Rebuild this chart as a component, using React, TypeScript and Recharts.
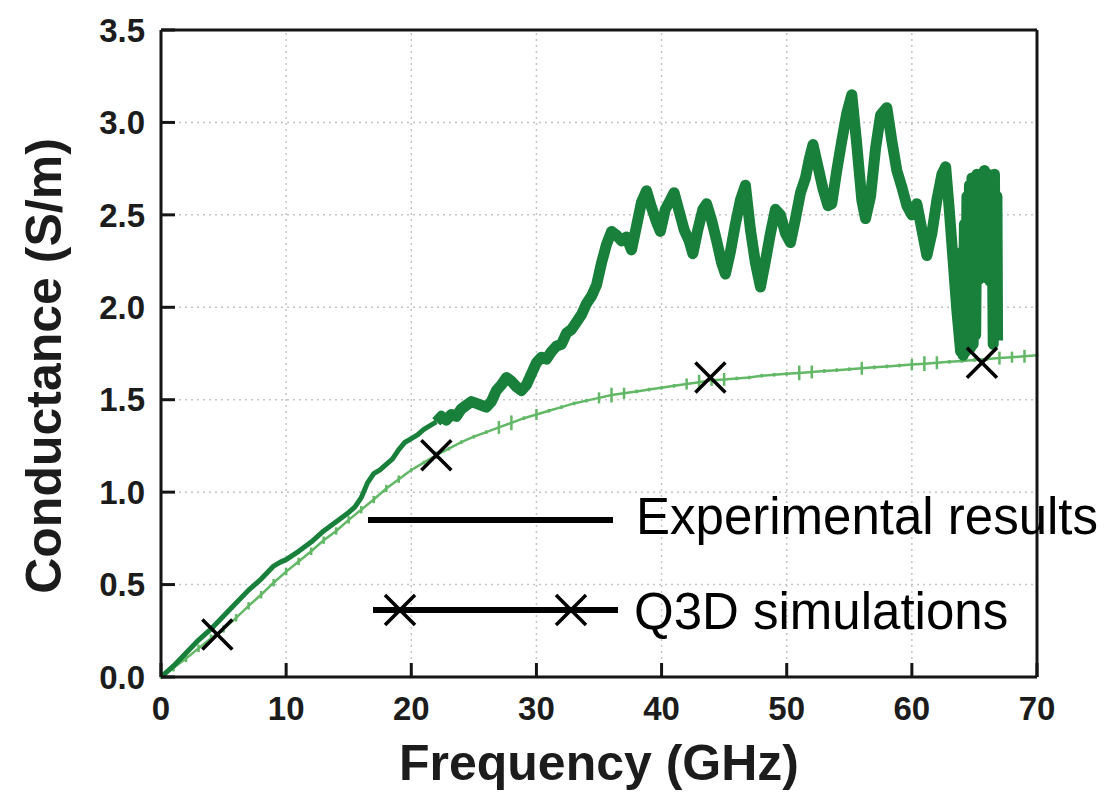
import { ComposedChart, Line, Scatter, XAxis, YAxis, ReferenceLine, ErrorBar } from "recharts";

// axis ticks (major carry labels, minor are bare inward marks)
const FREQ_TICKS = [0, 10, 20, 30, 40, 50, 60, 70];
const FREQ_MINOR = [5, 15, 25, 35, 45, 55, 65];
const G_TICKS = [0, 0.5, 1.0, 1.5, 2.0, 2.5, 3.0, 3.5];
const G_MINOR = [0.25, 0.75, 1.25, 1.75, 2.25, 2.75, 3.25];
const FREQ_GRID = [10, 20, 30, 40, 50, 60];
const G_GRID = [0.5, 1.0, 1.5, 2.0, 2.5, 3.0];

// measured conductance, [GHz, S/m] — low-frequency rise
const EXP_RISE: [number, number][] = [
  [0, 0], [1, 0.06], [2, 0.13], [3, 0.2], [4, 0.26], [5, 0.33], [6, 0.4], [7, 0.47],
  [8, 0.53], [9, 0.6], [9.5, 0.62], [10, 0.635], [11, 0.68], [12, 0.73], [13, 0.79],
  [14, 0.84], [15, 0.89], [15.5, 0.92], [16, 0.97], [16.5, 1.05], [17, 1.1], [17.5, 1.12],
  [18, 1.15], [18.5, 1.18], [19, 1.23], [19.5, 1.27], [20, 1.29], [20.5, 1.31], [21, 1.34],
  [21.5, 1.36], [22, 1.38],
];

// measured conductance, [GHz, S/m] — noisy upper band
const EXP_BAND: [number, number][] = [
  [22.0, 1.38], [22.4, 1.41], [22.8, 1.39], [23.2, 1.42], [23.6, 1.41], [24.0, 1.45],
  [24.4, 1.47], [24.8, 1.49], [25.2, 1.48], [25.6, 1.47], [26.0, 1.46], [26.4, 1.49],
  [26.8, 1.55], [27.2, 1.58], [27.6, 1.62], [28.0, 1.6], [28.4, 1.57], [28.8, 1.55],
  [29.2, 1.58], [29.6, 1.64], [30.0, 1.7], [30.4, 1.73], [30.8, 1.72], [31.2, 1.76],
  [31.6, 1.79], [32.0, 1.8], [32.4, 1.86], [32.8, 1.88], [33.2, 1.92], [33.6, 1.96],
  [34.0, 2.02], [34.4, 2.06], [34.8, 2.12], [35.2, 2.24], [35.6, 2.34], [36.0, 2.41],
  [36.4, 2.39], [36.8, 2.36], [37.2, 2.38], [37.6, 2.31], [38.0, 2.44], [38.4, 2.57],
  [38.8, 2.63], [39.2, 2.54], [39.6, 2.46], [39.9, 2.41], [40.3, 2.53], [40.7, 2.58],
  [41.0, 2.62], [41.4, 2.52], [41.8, 2.42], [42.2, 2.36], [42.5, 2.29], [42.9, 2.42],
  [43.3, 2.53], [43.6, 2.56], [44.0, 2.47], [44.4, 2.36], [44.8, 2.24], [45.1, 2.18],
  [45.5, 2.3], [45.9, 2.45], [46.3, 2.58], [46.7, 2.66], [47.1, 2.42], [47.5, 2.24],
  [47.9, 2.11], [48.3, 2.25], [48.7, 2.4], [49.1, 2.53], [49.5, 2.5], [49.9, 2.4],
  [50.3, 2.35], [50.7, 2.48], [51.1, 2.62], [51.5, 2.7], [51.8, 2.8], [52.1, 2.88],
  [52.5, 2.76], [52.9, 2.64], [53.3, 2.55], [53.6, 2.56], [54.0, 2.74], [54.4, 2.9],
  [54.8, 3.05], [55.2, 3.15], [55.6, 2.88], [56.0, 2.58], [56.3, 2.48], [56.7, 2.6],
  [57.1, 2.86], [57.5, 3.04], [58.0, 3.08], [58.4, 2.9], [58.8, 2.74], [59.2, 2.65],
  [59.6, 2.55], [60.0, 2.5], [60.4, 2.56], [60.8, 2.42], [61.2, 2.28], [61.6, 2.4],
  [62.0, 2.58], [62.4, 2.72], [62.7, 2.76], [63.0, 2.52], [63.3, 2.25], [63.6, 1.98],
  [63.9, 1.76], [64.0, 2.3], [64.1, 1.74], [64.2, 2.45], [64.3, 1.76], [64.4, 2.6],
  [64.5, 1.8], [64.6, 2.66], [64.7, 1.78], [64.8, 2.7], [64.9, 1.8], [65.0, 2.68],
  [65.1, 1.85], [65.2, 2.72], [65.35, 2.15], [65.5, 2.7], [65.65, 2.18], [65.8, 2.74],
  [65.95, 2.16], [66.1, 2.72], [66.25, 2.14], [66.4, 2.7], [66.5, 1.8], [66.6, 2.72],
  [66.7, 1.85], [66.8, 2.6], [66.85, 1.82],
];

// fitted / simulated trace, [GHz, S/m, spread]
const SIM_CURVE: [number, number, number][] = [
  [0, 0, 0.01], [1, 0.05, 0.02], [2, 0.1, 0.02], [3, 0.155, 0.02], [4, 0.21, 0.02],
  [5, 0.26, 0.02], [6, 0.32, 0.02], [7, 0.385, 0.02], [8, 0.445, 0.02], [9, 0.51, 0.02],
  [10, 0.57, 0.02], [11, 0.625, 0.02], [12, 0.68, 0.02], [13, 0.74, 0.02], [14, 0.79, 0.02],
  [15, 0.85, 0.02], [16, 0.905, 0.02], [17, 0.96, 0.02], [18, 1.02, 0.02], [19, 1.07, 0.02],
  [20, 1.12, 0.01], [21, 1.16, 0.01], [22, 1.2, 0.02], [23, 1.235, 0.01], [24, 1.27, 0.01],
  [25, 1.3, 0.01], [26, 1.325, 0.01], [27, 1.35, 0.035], [28, 1.375, 0.04], [29, 1.4, 0.01],
  [30, 1.42, 0.03], [31, 1.44, 0.01], [32, 1.46, 0.01], [33, 1.48, 0.01], [34, 1.495, 0.01],
  [35, 1.51, 0.03], [36, 1.525, 0.04], [37, 1.535, 0.03], [38, 1.545, 0.01], [39, 1.555, 0.01],
  [40, 1.565, 0.01], [41, 1.575, 0.01], [42, 1.585, 0.03], [43, 1.595, 0.04], [44, 1.605, 0.03],
  [45, 1.61, 0.035], [46, 1.615, 0.01], [47, 1.62, 0.01], [48, 1.63, 0.01], [49, 1.635, 0.01],
  [50, 1.64, 0.01], [51, 1.645, 0.04], [52, 1.65, 0.035], [53, 1.655, 0.01], [54, 1.66, 0.01],
  [55, 1.665, 0.01], [56, 1.67, 0.035], [57, 1.675, 0.01], [58, 1.68, 0.01], [59, 1.685, 0.01],
  [60, 1.69, 0.03], [61, 1.695, 0.04], [62, 1.7, 0.035], [63, 1.705, 0.01], [64, 1.71, 0.01],
  [65, 1.715, 0.01], [66, 1.72, 0.01], [67, 1.725, 0.035], [68, 1.73, 0.03], [69, 1.735, 0.035],
  [70, 1.74, 0.01],
];

// Q3D simulation points, [GHz, S/m]
const Q3D_POINTS: [number, number][] = [
  [4.5, 0.23], [22.0, 1.2], [43.9, 1.62], [65.6, 1.7],
];

const W = 1108;
const H = 793;
// two 1px axes per side (major + minor ticks) sit inside these margins
const MARGIN = { top: 28, right: 69, bottom: 114, left: 159 };
const DARK_GREEN = "#18803a";
const LIGHT_GREEN = "#62b866";
const AXIS = "#151515";
const LABEL_FONT = "'Liberation Sans', Arial, sans-serif";

const expRise = EXP_RISE.map(([f, g]) => ({ f, g }));
const expBand = EXP_BAND.map(([f, g]) => ({ f, g }));
const simData = SIM_CURVE.map(([f, g, e]) => ({ f, g, e }));
const q3dData = Q3D_POINTS.map(([f, g]) => ({ f, g }));

const tickText = { fontFamily: LABEL_FONT, fontSize: 33, fontWeight: 700, fill: "#1c1c1c" };

function Cross({ cx, cy, r = 15, w = 3.5 }: { cx: number; cy: number; r?: number; w?: number }) {
  return (
    <g stroke="#000" strokeWidth={w}>
      <line x1={cx - r} y1={cy - r} x2={cx + r} y2={cy + r} />
      <line x1={cx - r} y1={cy + r} x2={cx + r} y2={cy - r} />
    </g>
  );
}

function YTitle() {
  const cx = 44;
  const cy = 366;
  return (
    <text
      x={cx}
      y={cy}
      transform={`rotate(-90 ${cx} ${cy})`}
      textAnchor="middle"
      dominantBaseline="central"
      fontFamily={LABEL_FONT}
      fontSize={50}
      fontWeight={700}
      fill="#1c1c1c"
    >
      Conductance (S/m)
    </text>
  );
}

function LegendOverlay() {
  const textStyle = { fontFamily: LABEL_FONT, fontSize: 51, fill: "#000" };
  return (
    <svg width={W} height={H} style={{ position: "absolute", left: 0, top: 0, pointerEvents: "none" }}>
      <line x1={368} y1={520} x2={613} y2={520} stroke="#000" strokeWidth={6} />
      <text x={636} y={534} {...textStyle}>Experimental results</text>
      <line x1={373} y1={610} x2={618} y2={610} stroke="#000" strokeWidth={6} />
      <Cross cx={400} cy={610} />
      <Cross cx={571} cy={610} />
      <text x={634} y={629} {...textStyle}>Q3D simulations</text>
    </svg>
  );
}

const minorTick = { stroke: AXIS, strokeWidth: 2.5 };
const majorTick = { stroke: AXIS, strokeWidth: 3 };
const frame = { stroke: AXIS, strokeWidth: 3 };

export default function App() {
  return (
    <div style={{ position: "absolute", left: 0, top: 0, width: W, height: H, background: "#fff" }}>
      <ComposedChart width={W} height={H} margin={MARGIN}>
        <XAxis
          xAxisId="x"
          dataKey="f"
          type="number"
          domain={[0, 70]}
          ticks={FREQ_TICKS}
          interval={0}
          allowDataOverflow
          height={1}
          axisLine={frame}
          tickLine={majorTick}
          tickSize={-14}
          tickMargin={34}
          tick={tickText}
          label={{
            value: "Frequency (GHz)",
            position: "bottom",
            offset: 66,
            style: { fontFamily: LABEL_FONT, fontSize: 50, fontWeight: 700, fill: "#1c1c1c" },
          }}
        />
        <XAxis xAxisId="xm" type="number" domain={[0, 70]} ticks={FREQ_MINOR} interval={0} allowDataOverflow
          height={1} axisLine={false} tickLine={minorTick} tickSize={-9} tick={false} />
        <XAxis xAxisId="xt" orientation="top" type="number" domain={[0, 70]} ticks={FREQ_TICKS} interval={0}
          allowDataOverflow height={1} axisLine={frame} tickLine={majorTick} tickSize={-14} tick={false} />
        <XAxis xAxisId="xtm" orientation="top" type="number" domain={[0, 70]} ticks={FREQ_MINOR} interval={0}
          allowDataOverflow height={1} axisLine={false} tickLine={minorTick} tickSize={-10} tick={false} />

        <YAxis
          yAxisId="y"
          dataKey="g"
          type="number"
          domain={[0, 3.5]}
          ticks={G_TICKS}
          interval={0}
          allowDataOverflow
          width={1}
          axisLine={frame}
          tickLine={majorTick}
          tickSize={-14}
          tickMargin={30}
          tick={tickText}
          tickFormatter={(v: number) => v.toFixed(1)}
          label={{ content: () => <YTitle /> }}
        />
        <YAxis yAxisId="ym" type="number" domain={[0, 3.5]} ticks={G_MINOR} interval={0} allowDataOverflow
          width={1} axisLine={false} tickLine={minorTick} tickSize={-10} tick={false} />
        <YAxis yAxisId="yr" orientation="right" type="number" domain={[0, 3.5]} ticks={G_TICKS} interval={0}
          allowDataOverflow width={1} axisLine={frame} tickLine={majorTick} tickSize={-14} tick={false} />
        <YAxis yAxisId="yrm" orientation="right" type="number" domain={[0, 3.5]} ticks={G_MINOR} interval={0}
          allowDataOverflow width={1} axisLine={false} tickLine={minorTick} tickSize={-10} tick={false} />

        {FREQ_GRID.map((v) => (
          <ReferenceLine key={`gx${v}`} xAxisId="x" yAxisId="y" x={v} stroke="#c4c4c4"
            strokeWidth={1.5} strokeDasharray="2 4" />
        ))}
        {G_GRID.map((v) => (
          <ReferenceLine key={`gy${v}`} xAxisId="x" yAxisId="y" y={v} stroke="#c4c4c4"
            strokeWidth={1.5} strokeDasharray="2 4" />
        ))}

        <Line xAxisId="x" yAxisId="y" data={simData} dataKey="g" type="linear" stroke={LIGHT_GREEN}
          strokeWidth={2.5} dot={false} activeDot={false} isAnimationActive={false}>
          <ErrorBar dataKey="e" direction="y" width={0} stroke={LIGHT_GREEN} strokeWidth={2.5}
            isAnimationActive={false} />
        </Line>
        <Line xAxisId="x" yAxisId="y" data={expRise} dataKey="g" type="linear" stroke={DARK_GREEN}
          strokeWidth={5} strokeLinejoin="round" dot={false} activeDot={false} isAnimationActive={false} />
        <Line xAxisId="x" yAxisId="y" data={expBand} dataKey="g" type="linear" stroke={DARK_GREEN}
          strokeWidth={11} strokeLinejoin="round" dot={false} activeDot={false} isAnimationActive={false} />
        <Scatter xAxisId="x" yAxisId="y" data={q3dData} dataKey="g" isAnimationActive={false}
          shape={(p: any) => <Cross cx={p.cx} cy={p.cy} />} />
      </ComposedChart>
      <LegendOverlay />
    </div>
  );
}
